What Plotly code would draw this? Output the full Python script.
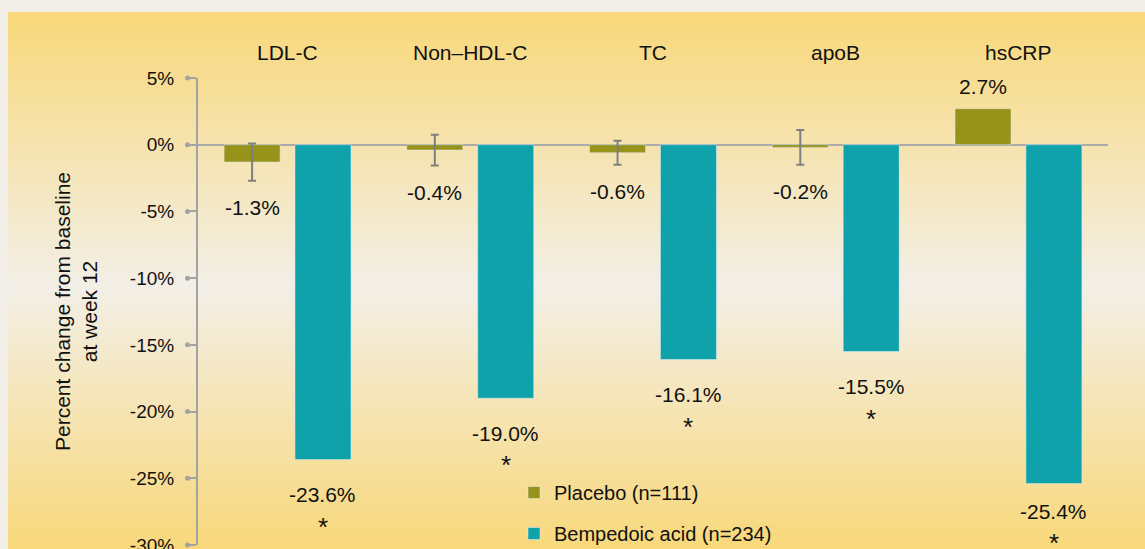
import plotly.graph_objects as go

categories = ['LDL-C', 'Non\u2013HDL-C', 'TC', 'apoB', 'hsCRP']
placebo = [-1.3, -0.4, -0.6, -0.2, 2.7]
placebo_err = [1.4, 1.15, 0.9, 1.3, None]
bempedoic = [-23.6, -19.0, -16.1, -15.5, -25.4]
tick_vals = [5, 0, -5, -10, -15, -20, -25, -30]
tick_text = ['5%', '0%', '-5%', '-10%', '-15%', '-20%', '-25%', '-30%']

OLIVE = '#979219'
TEAL = '#10a2aa'
AXIS = '#a3a3a3'
FONT = 'Liberation Sans'
W, H = 1145, 549
ML, MR, MT, MB = 198, 37, 78, 4
BARGAP = 0.224
Y_RANGE = [-30, 5]

xs = list(range(len(categories)))
off = (1 - BARGAP) / 4
pw, ph = W - ML - MR, H - MT - MB
ppu = ph / (Y_RANGE[1] - Y_RANGE[0])  # pixels per percent

fig = go.Figure()
fig.add_trace(go.Bar(x=xs, y=placebo, name='Placebo (n=111)',
                     marker_color=OLIVE, legendgroup='p'))
fig.add_trace(go.Bar(x=xs, y=bempedoic, name='Bempedoic acid (n=234)',
                     marker_color=TEAL, legendgroup='b'))

# error bars only where the placebo has one
err_idx = [i for i, e in enumerate(placebo_err) if e is not None]
fig.add_trace(go.Scatter(x=[i - off for i in err_idx], y=[placebo[i] for i in err_idx],
                         mode='markers', marker=dict(size=1, opacity=0),
                         error_y=dict(type='data', array=[placebo_err[i] for i in err_idx],
                                      color='#7f7f7f', thickness=2, width=4),
                         showlegend=False, hoverinfo='skip'))

# background panel gradient, built from thin stripes
def mix(c1, c2, t):
    return '#%02x%02x%02x' % tuple(round(a + (b - a) * t) for a, b in zip(c1, c2))

top_c, mid_c, bot_c = (248, 216, 122), (243, 239, 231), (248, 216, 122)
py_top, py_mid, py_bot = 12, 285, H
step = 3
shapes = []
for py in range(py_top, py_bot, step):
    if py < py_mid:
        col = mix(top_c, mid_c, (py - py_top) / (py_mid - py_top))
    else:
        col = mix(mid_c, bot_c, (py - py_mid) / (py_bot - py_mid))
    shapes.append(dict(type='rect', xref='paper', yref='paper', layer='below',
                       x0=(8 - ML) / pw, x1=(W - ML) / pw,
                       y0=(H - MB - py - step - 0.5) / ph, y1=(H - MB - py) / ph,
                       line_width=0, fillcolor=col))

# little dots at the end of each y tick
for v in tick_vals:
    yp = (v - Y_RANGE[0]) / (Y_RANGE[1] - Y_RANGE[0])
    shapes.append(dict(type='circle', xref='paper', xsizemode='pixel', xanchor=0,
                       x0=-13, x1=-8, yref='paper', ysizemode='pixel', yanchor=yp,
                       y0=-2.5, y1=2.5, fillcolor=AXIS, line_width=0))

ann = []
for i, c in enumerate(categories):
    ann.append(dict(x=i, y=(H - MB - 52) / ph, yref='paper', yanchor='middle', text=c,
                    showarrow=False, font=dict(size=21, color='#111')))
    p = placebo[i]
    if p >= 0:
        ann.append(dict(x=i - off, y=p, yshift=22, text=f'{p:.1f}%', showarrow=False,
                        font=dict(size=21, color='#111')))
    else:
        ann.append(dict(x=i - off, y=p - placebo_err[i], yshift=-27, text=f'{p:.1f}%',
                        showarrow=False, font=dict(size=21, color='#111')))
    b = bempedoic[i]
    ly = max(b - 35 / ppu, Y_RANGE[0] + 34 / ppu)
    ann.append(dict(x=i + off, y=ly, text=f'{b:.1f}%', showarrow=False,
                    font=dict(size=21, color='#111')))
    ann.append(dict(x=i + off, y=ly, yshift=-32, text='*', showarrow=False,
                    font=dict(size=26, color='#111')))

fig.update_layout(
    width=W, height=H,
    margin=dict(l=ML, r=MR, t=MT, b=MB, autoexpand=False),
    paper_bgcolor='#f2efe8',
    plot_bgcolor='rgba(0,0,0,0)',
    font=dict(family=FONT, size=19, color='#111'),
    barmode='group', bargap=BARGAP, bargroupgap=0.21,
    shapes=shapes,
    annotations=ann,
    legend=dict(x=(514 - ML) / pw, y=(H - MB - 473) / ph, xanchor='left', yanchor='top',
                bgcolor='rgba(0,0,0,0)', font=dict(size=20, family=FONT, color='#111'),
                traceorder='grouped', tracegroupgap=12),
    showlegend=True,
)
fig.update_xaxes(range=[-0.49, 4.49], showticklabels=False, showgrid=False,
                 zeroline=False, showline=False, ticks='', automargin=False)
fig.update_yaxes(range=Y_RANGE, tickvals=tick_vals, ticktext=tick_text,
                 showgrid=False, showline=True, linecolor=AXIS, linewidth=2,
                 ticks='outside', ticklen=10, tickwidth=2, tickcolor=AXIS,
                 ticklabelstandoff=8, automargin=False, ticklabeloverflow='allow',
                 zeroline=True, zerolinecolor='#aaaaaa', zerolinewidth=2,
                 tickfont=dict(size=19, color='#111'),
                 title=dict(text='Percent change from baseline<br>at week 12',
                            font=dict(size=21, color='#111'), standoff=26))

fig.write_html('out.html', config={'displayModeBar': False},
               post_script="document.body.style.margin='0';"
                           "document.body.style.background='#f2efe8';")
